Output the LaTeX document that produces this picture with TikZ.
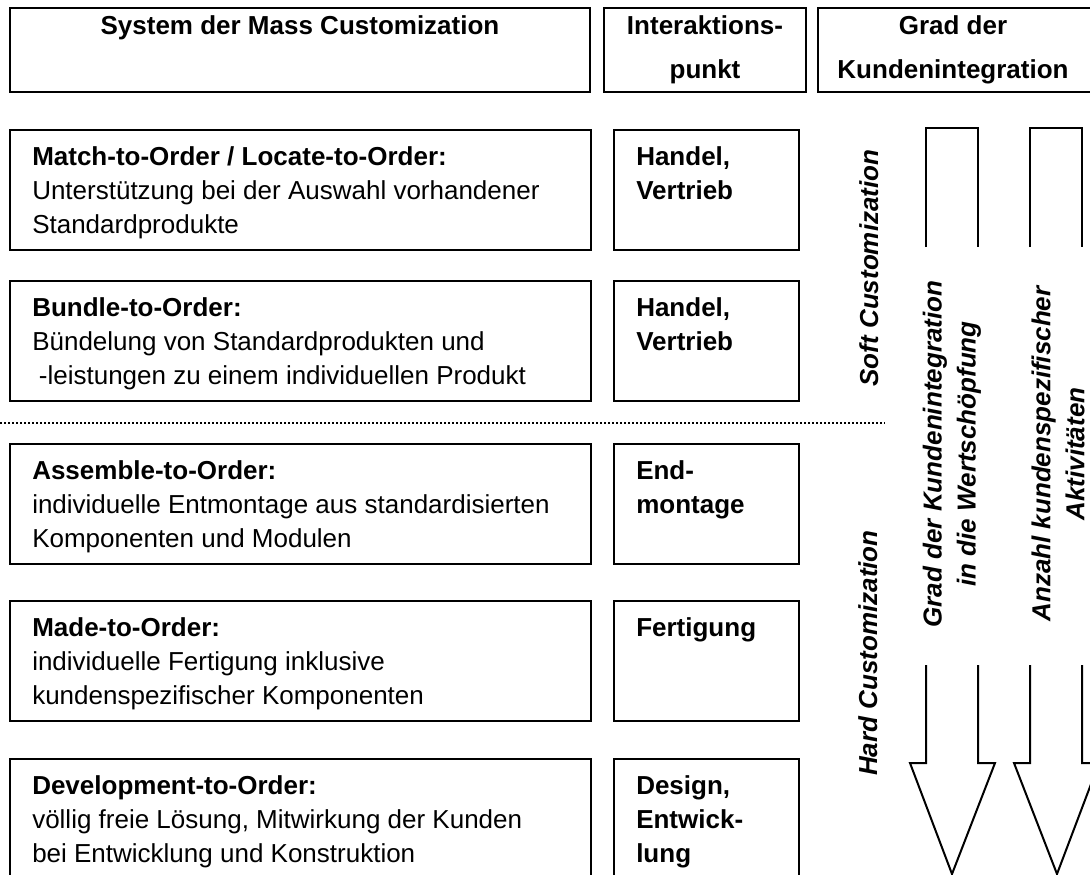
\documentclass[tikz,border=0pt]{standalone}
\usepackage{fontspec}
\setmainfont{Liberation Sans}
\usetikzlibrary{calc}
% strut that fixes the first baseline of a text block
\newcommand\firstline{\rule{0pt}{20pt}}
\begin{document}
\begin{tikzpicture}[x=0.75pt, y=-0.75pt,
  frame/.style={draw, line width=1.5pt, fill=white, inner sep=0pt, outer sep=0pt, anchor=north west},
  rowbox/.style={frame, minimum width=581*0.75pt, minimum height=120*0.75pt},
  pointbox/.style={frame, minimum width=185*0.75pt, minimum height=120*0.75pt},
  bodytext/.style={anchor=north west, inner sep=0pt, align=left, yshift=20pt,
                   font=\fontsize{19.5}{25.5}\selectfont},
  headtext/.style={anchor=north, inner sep=0pt, align=center, yshift=20pt,
                   font=\fontsize{19.5}{33}\selectfont\bfseries},
  sidetext/.style={rotate=90, inner sep=0pt, align=center,
                   font=\fontsize{19.5}{25.5}\selectfont\bfseries\itshape},
  shaft/.style={line width=1.5pt, line join=miter}]
\clip (0,0) rectangle (1090,875);

% column headers
\node[frame, minimum width=580*0.75pt, minimum height=84*0.75pt] (h1) at (10,8) {};
\node[frame, minimum width=202*0.75pt, minimum height=84*0.75pt] (h2) at (604,8) {};
\node[frame, minimum width=276*0.75pt, minimum height=84*0.75pt] (h3) at (818,8) {};
\node[headtext] (th1) at ($(h1.north)+(0,26)$) {\firstline System der Mass Customization};
\node[headtext] (th2) at ($(h2.north)+(0,26)$) {\firstline Interaktions-\\punkt};
\node[headtext] (th3) at ($(h3.north west)+(135,26)$) {\firstline Grad der\\Kundenintegration};

% rows: system of mass customization
\node[rowbox] (r1) at (10,130) {};
\node[rowbox] (r2) at (10,281) {};
\node[rowbox] (r3) at (10,444) {};
\node[rowbox] (r4) at (10,601) {};
\node[rowbox] (r5) at (10,759) {};
\node[bodytext] (tr1) at ($(r1.north west)+(22,35)$)
  {\firstline\textbf{Match-to-Order / Locate-to-Order:}\\Unterstützung bei der Auswahl vorhandener\\Standardprodukte};
\node[bodytext] (tr2) at ($(r2.north west)+(22,35)$)
  {\firstline\textbf{Bundle-to-Order:}\\Bündelung von Standardprodukten und\\\hspace*{5pt}-leistungen zu einem individuellen Produkt};
\node[bodytext] (tr3) at ($(r3.north west)+(22,35)$)
  {\firstline\textbf{Assemble-to-Order:}\\individuelle Entmontage aus standardisierten\\Komponenten und Modulen};
\node[bodytext] (tr4) at ($(r4.north west)+(22,35)$)
  {\firstline\textbf{Made-to-Order:}\\individuelle Fertigung inklusive\\kundenspezifischer Komponenten};
\node[bodytext] (tr5) at ($(r5.north west)+(22,35)$)
  {\firstline\textbf{Development-to-Order:}\\völlig freie Lösung, Mitwirkung der Kunden\\bei Entwicklung und Konstruktion};

% rows: interaction points
\node[pointbox] (p1) at (614,130) {};
\node[pointbox] (p2) at (614,281) {};
\node[pointbox] (p3) at (614,444) {};
\node[pointbox] (p4) at (614,601) {};
\node[pointbox] (p5) at (614,759) {};
\node[bodytext, font=\fontsize{19.5}{25.5}\selectfont\bfseries] (tp1) at ($(p1.north west)+(22,35)$) {\firstline Handel,\\Vertrieb};
\node[bodytext, font=\fontsize{19.5}{25.5}\selectfont\bfseries] (tp2) at ($(p2.north west)+(22,35)$) {\firstline Handel,\\Vertrieb};
\node[bodytext, font=\fontsize{19.5}{25.5}\selectfont\bfseries] (tp3) at ($(p3.north west)+(22,35)$) {\firstline End-\\montage};
\node[bodytext, font=\fontsize{19.5}{25.5}\selectfont\bfseries] (tp4) at ($(p4.north west)+(22,35)$) {\firstline Fertigung};
\node[bodytext, font=\fontsize{19.5}{25.5}\selectfont\bfseries] (tp5) at ($(p5.north west)+(22,35)$) {\firstline Design,\\Entwick-\\lung};

% border between soft and hard customization
\draw[line width=1pt, dash pattern=on 1.5pt off 1.5pt] (0,423) -- (885,423);

\node[sidetext, anchor=base] (soft) at (878,268) {Soft Customization};
\node[sidetext, anchor=base] (hard) at (877,653) {Hard Customization};

% block arrows, interrupted by their labels
\draw[shaft] (926,247) -- (926,128) -- (978,128) -- (978,247);
\draw[shaft] (926,665) -- (926,763) -- (910,763) -- (952,874) -- (995,763) -- (978,763) -- (978,665);
\draw[shaft] (1030,247) -- (1030,128) -- (1082,128) -- (1082,247);
\draw[shaft] (1030,665) -- (1030,763) -- (1014,763) -- (1057,874) -- (1099,763) -- (1082,763) -- (1082,665);

\node[sidetext] (grad) at (952,454) {Grad der Kundenintegration\\in die Wertschöpfung};
\node[sidetext] (anzahl) at (1058,454) {Anzahl kundenspezifischer\\Aktivitäten};
\end{tikzpicture}
\end{document}
